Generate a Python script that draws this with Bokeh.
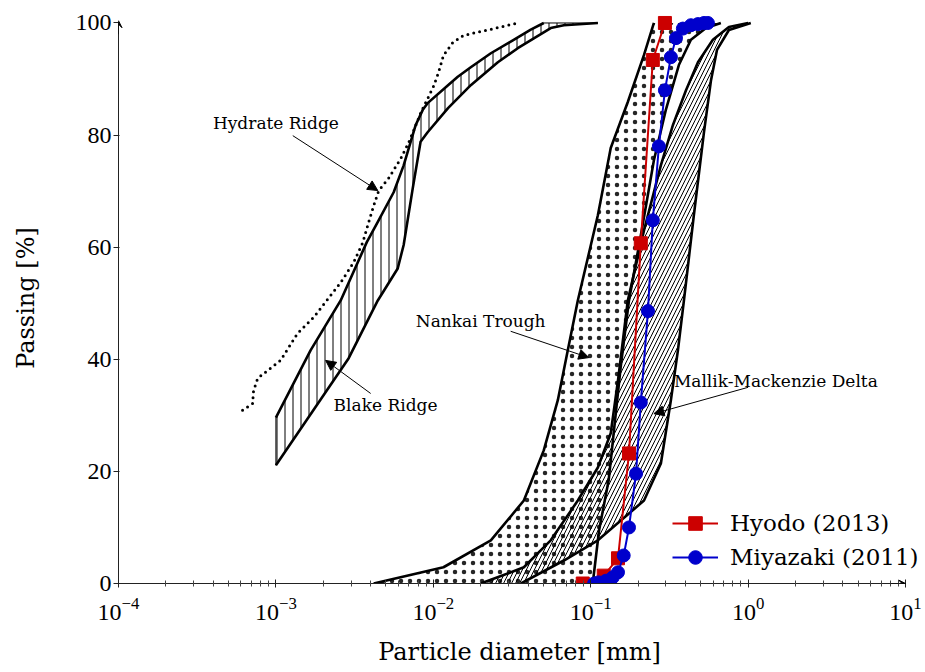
from bokeh.plotting import figure
from bokeh.models import Range1d, FixedTicker, Arrow, NormalHead, VeeHead, Label
from bokeh.embed import file_html
from bokeh.resources import INLINE

# ---------------- data ----------------
hydrate_x = [6.14e-4, 7.11e-4, 7.21e-4, 7.66e-4, 8.85e-4, 1.07e-3, 1.37e-3, 1.74e-3, 2.13e-3, 2.58e-3,
             3.12e-3, 3.56e-3, 3.88e-3, 4.18e-3, 4.50e-3, 5.20e-3, 6.21e-3, 6.98e-3, 7.73e-3, 8.32e-3,
             9.2e-3, 1.007e-2, 1.08e-2, 1.16e-2, 1.33e-2, 1.56e-2, 2.42e-2, 3.44e-2]
hydrate_y = [30.9, 32.1, 34.4, 36.6, 38.0, 39.8, 44.6, 47.5, 50.7, 53.7,
             57.3, 60.8, 64.4, 67.4, 70.1, 72.3, 75.8, 78.7, 81.7, 84.0,
             86.5, 88.8, 91.2, 94.2, 96.5, 97.8, 99.0, 100.0]

blake_up_x = [1.0e-3, 1.66e-3, 2.58e-3, 3.78e-3, 4.44e-3, 5.6e-3, 6.48e-3, 7.73e-3, 8.57e-3, 9.2e-3,
              1.24e-2, 1.43e-2, 1.73e-2, 2.32e-2, 3.24e-2, 4.16e-2, 5.03e-2]
blake_up_y = [29.6, 41.6, 50.5, 60.9, 64.5, 69.8, 74.6, 81.8, 84.5, 85.7,
              88.9, 90.4, 92.1, 94.6, 97.0, 98.8, 100.0]
blake_lo_x = [1.0e-3, 2.9e-3, 4.44e-3, 5.94e-3, 6.48e-3, 7.4e-3, 8.3e-3, 9.2e-3, 1.24e-2, 1.73e-2,
              2.57e-2, 3.44e-2, 5.57e-2, 6.75e-2, 0.111]
blake_lo_y = [21.1, 40.2, 50.5, 56.2, 60.4, 70.5, 78.8, 80.5, 84.8, 88.9,
              93.0, 95.5, 99.1, 99.6, 100.0]

nankai_left_x = [4.18e-3, 1.16e-2, 2.32e-2, 3.76e-2, 5.03e-2, 6.18e-2, 7.15e-2, 8.28e-2, 0.111, 0.134,
                 0.172, 0.218, 0.252]
nankai_left_y = [0.0, 2.9, 7.7, 14.8, 23.75, 32.7, 41.6, 50.5, 65.7, 77.7, 85.9, 94.3, 100.0]
nankai_right_x = [0.103, 0.113, 0.130, 0.155, 0.175, 0.208, 0.252, 0.300, 0.363, 0.433, 0.54, 0.671]
nankai_right_y = [0.0, 9.5, 18.4, 38.6, 50.5, 62.1, 75.5, 84.5, 92.5, 97.0, 99.1, 100.0]

mallik_left_x = [0.020, 0.0256, 0.0376, 0.0557, 0.0828, 0.111, 0.134, 0.149, 0.172, 0.218,
                 0.279, 0.333, 0.403, 0.48, 0.597, 0.755, 1.0]
mallik_left_y = [0.0, 1.1, 2.9, 7.7, 14.8, 20.7, 26.8, 36.25, 50.5, 63.0,
                 74.6, 81.8, 88.0, 93.0, 97.0, 99.3, 100.0]
mallik_right_x = [0.036, 0.0675, 0.111, 0.218, 0.279, 0.323, 0.358, 0.391, 0.452, 0.524,
                  0.581, 0.634, 0.755, 1.04]
mallik_right_y = [0.0, 4.1, 7.7, 14.8, 21.4, 32.7, 41.6, 50.5, 65.7, 80.5,
                  89.8, 95.2, 98.75, 100.0]

hyodo_x = [0.089, 0.121, 0.149, 0.175, 0.208, 0.248, 0.296]
hyodo_y = [0.0, 1.4, 4.5, 23.2, 60.7, 93.4, 100.0]

miyazaki_x = [0.105, 0.112, 0.125, 0.138, 0.149, 0.162, 0.175, 0.194, 0.208, 0.231,
              0.248, 0.271, 0.296, 0.323, 0.348, 0.385, 0.433, 0.48, 0.524, 0.555]
miyazaki_y = [0.0, 0.2, 0.5, 1.1, 2.0, 5.0, 10.0, 19.6, 32.3, 48.6,
              64.8, 78.0, 88.0, 93.9, 97.3, 99.0, 99.6, 99.8, 100.0, 100.0]

x_major = [1e-4, 1e-3, 1e-2, 1e-1, 1e0, 1e1]
x_minor = [k * 10.0 ** e for e in range(-4, 1) for k in range(2, 10)]
y_ticks = [0, 20, 40, 60, 80, 100]

# annotation texts and anchor points (label x, label y, arrow start x, y, arrow end x, y)
notes = [
    ("Hydrate Ridge", 1.0e-3, 82.1, 1.28e-3, 79.9, 4.44e-3, 70.1),
    ("Blake Ridge", 4.97e-3, 31.8, 4.0e-3, 33.9, 2.07e-3, 39.8),
    ("Nankai Trough", 2.0e-2, 46.9, 3.1e-2, 45.0, 9.73e-2, 40.3),
    ("Mallik-Mackenzie Delta", 1.50, 36.2, 1.0, 35.0, 0.252, 30.3),
]

SERIF = "DejaVu Serif"
TICKFONT = "Liberation Serif"

p = figure(width=925, height=672, x_axis_type="log",
           x_range=Range1d(1e-4, 10 ** 1.095), y_range=Range1d(0, 101.87),
           output_backend="svg", toolbar_location=None,
           min_border_left=118, min_border_right=5, min_border_top=12, min_border_bottom=89)
p.outline_line_color = None
p.xgrid.visible = False
p.ygrid.visible = False
p.background_fill_color = "white"

# ---- regions ----
p.patch(blake_up_x + blake_lo_x[::-1], blake_up_y + blake_lo_y[::-1],
        fill_color=None, line_color="black", line_width=1,
        hatch_pattern="vertical_line", hatch_scale=8, hatch_weight=1, hatch_color="black")
p.patch(nankai_left_x + nankai_right_x[::-1], nankai_left_y + nankai_right_y[::-1],
        fill_color=None, line_color=None,
        hatch_pattern="dot", hatch_scale=9, hatch_weight=1, hatch_color="black", hatch_alpha=0.85)
p.patch(mallik_left_x + mallik_right_x[::-1], mallik_left_y + mallik_right_y[::-1],
        fill_color=None, line_color=None,
        hatch_pattern="right_diagonal_line", hatch_scale=8, hatch_weight=1, hatch_color="black")

for xs, ys in [(blake_up_x, blake_up_y), (blake_lo_x, blake_lo_y),
               (nankai_left_x, nankai_left_y), (nankai_right_x, nankai_right_y),
               (mallik_left_x, mallik_left_y), (mallik_right_x, mallik_right_y)]:
    p.line(xs, ys, line_color="black", line_width=2.6, line_join="round")

p.line(hydrate_x, hydrate_y, line_color="black", line_width=3, line_dash="0 6", line_cap="round")

# ---- data series ----
RED = "#cc0000"
BLUE = "#0000cc"
p.line(hyodo_x, hyodo_y, line_color=RED, line_width=2, legend_label="Hyodo (2013)")
p.scatter(hyodo_x, hyodo_y, marker="square", size=13, fill_color=RED, line_color=RED,
          legend_label="Hyodo (2013)")
p.line(miyazaki_x, miyazaki_y, line_color=BLUE, line_width=2, legend_label="Miyazaki (2011)")
p.scatter(miyazaki_x, miyazaki_y, marker="circle", size=13, fill_color=BLUE, line_color=BLUE,
          legend_label="Miyazaki (2011)")

# ---- annotations ----
for text, lx, ly, ax0, ay0, ax1, ay1 in notes:
    p.add_layout(Label(x=lx, y=ly, text=text, text_align="center", text_baseline="middle",
                       text_font=SERIF, text_font_size="17px", text_color="black"))
    p.add_layout(Arrow(end=NormalHead(size=10, fill_color="black", line_color="black", line_width=1),
                       x_start=ax0, y_start=ay0, x_end=ax1, y_end=ay1,
                       line_color="black", line_width=1))

# axis arrow heads
p.add_layout(Arrow(end=VeeHead(size=7, fill_color="black", line_color="black", line_width=1),
                   x_start=x_major[-2] * 8, y_start=y_ticks[0], x_end=x_major[-1], y_end=y_ticks[0],
                   line_color="black", line_width=1))
p.add_layout(Arrow(end=VeeHead(size=7, fill_color="black", line_color="black", line_width=1),
                   x_start=x_major[0], y_start=y_ticks[-1] - 2, x_end=x_major[0], y_end=y_ticks[-1] + 0.4,
                   line_color="black", line_width=1))

# ---- axes ----
xa = p.xaxis[0]
xa.ticker = FixedTicker(ticks=x_major, minor_ticks=x_minor)
xa.bounds = (x_major[0], x_major[-1])
xa.axis_label = "Particle diameter [mm]"
xa.axis_label_text_font = SERIF
xa.axis_label_text_font_size = "24px"
xa.axis_label_text_font_style = "normal"
xa.axis_label_standoff = 15
xa.major_label_text_font = TICKFONT
xa.major_label_text_font_size = "24px"
xa.major_label_standoff = 10
xa.major_tick_in = 4
xa.major_tick_out = 4
xa.minor_tick_in = 3
xa.minor_tick_out = 3
xa.axis_line_color = "#222222"
xa.major_tick_line_color = "#222222"
xa.minor_tick_line_color = "#444444"
xa.major_label_text_color = "black"
xa.axis_label_text_color = "black"

ya = p.yaxis[0]
ya.ticker = FixedTicker(ticks=y_ticks, minor_ticks=[])
ya.bounds = (0, 100)
ya.axis_label = "Passing [%]"
ya.axis_label_text_font = SERIF
ya.axis_label_text_font_size = "24px"
ya.axis_label_text_font_style = "normal"
ya.axis_label_standoff = 33
ya.major_label_text_font = TICKFONT
ya.major_label_text_font_size = "24px"
ya.major_label_standoff = 2
ya.major_tick_in = 1
ya.major_tick_out = 5
ya.axis_line_color = "#222222"
ya.major_tick_line_color = "#222222"
ya.major_label_text_color = "black"
ya.axis_label_text_color = "black"

# ---- legend ----
lg = p.legend[0]
lg.location = (554, 9)
lg.glyph_width = 46
lg.glyph_height = 34
lg.label_height = 34
lg.spacing = 0
lg.padding = 0
lg.margin = 0
lg.label_standoff = 12
lg.label_text_font = SERIF
lg.label_text_font_size = "23px"
lg.label_text_color = "black"
lg.border_line_color = None
lg.background_fill_alpha = 0

open("out.html", "w").write(file_html(p, INLINE))
